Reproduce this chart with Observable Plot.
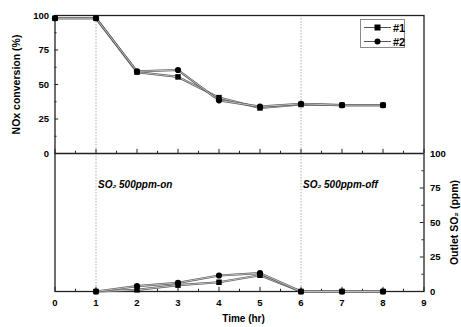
<!DOCTYPE html>
<html>
<head>
<meta charset="utf-8">
<script src="https://cdn.jsdelivr.net/npm/d3@7"></script>
<script src="https://cdn.jsdelivr.net/npm/@observablehq/plot@0.6"></script>
<style>
  body { margin: 0; background: #fff; }
  #wrap { position: relative; width: 461px; height: 327px; font-family: "Liberation Sans", Arial, sans-serif; }
  #legend { position: absolute; left: 360px; top: 19px; width: 45px; height: 29px; border: 1px solid #8a8a8a; background: #fff; box-sizing: border-box; font-weight: bold; font-size: 11px; }
  #legend .row { position: absolute; left: 3px; height: 13px; display: flex; align-items: center; }
  #legend svg { display: block; }
  #legend span { margin-left: 2px; }
</style>
</head>
<body>
<div id="wrap"></div>
<script>
// ---- data ----
const time = [0, 1, 2, 3, 4, 5, 6, 7, 8];
const nox1 = [98, 98, 59, 55.5, 40.5, 33, 35.5, 35, 35];
const nox2 = [98, 98, 59.5, 60.5, 38.5, 34, 36, 35, 35];
const so2Time = [1, 2, 3, 4, 5, 6, 7, 8];
const so2_1 = [0, 1.2, 4.6, 6.7, 11.8, 0, 0, 0];
const so2_2 = [0, 3.9, 6.3, 11.6, 13.3, 0, 0, 0];
const seriesNames = ["#1", "#2"];
const xTicks = [0, 1, 2, 3, 4, 5, 6, 7, 8, 9];
const xMinor = [0.5, 1.5, 2.5, 3.5, 4.5, 5.5, 6.5, 7.5, 8.5];
const yTicks = [0, 25, 50, 75, 100];
const yMinor = [12.5, 37.5, 62.5, 87.5];
const eventTimes = [1, 6];
const eventLabels = ["SO\u2082 500ppm-on", "SO\u2082 500ppm-off"];
const titleX = "Time (hr)";
const titleLeft = "NOx conversion (%)";
const titleRight = "Outlet SO\u2082 (ppm)";

// top panel is drawn on the upper half of one shared y scale (offset 100)
const OFF = 100;
const top1 = time.map((t, i) => ({t, v: nox1[i] + OFF}));
const top2 = time.map((t, i) => ({t, v: nox2[i] + OFF}));
const bot1 = so2Time.map((t, i) => ({t, v: so2_1[i]}));
const bot2 = so2Time.map((t, i) => ({t, v: so2_2[i]}));

const lineOuter = {stroke: "#555", strokeWidth: 2.2};
const lineInner = {stroke: "#dcdcdc", strokeWidth: 0.8};
const sq = {symbol: "square", r: 3.1, fill: "#000"};
const ci = {symbol: "circle", r: 3.1, fill: "#000"};

const plot = Plot.plot({
  width: 461,
  height: 327,
  marginLeft: 54.5,
  marginRight: 37.5,
  marginTop: 15,
  marginBottom: 36,
  style: {fontFamily: "'Liberation Sans', Arial, sans-serif", fontWeight: "bold", fontSize: "9.5px", color: "#000", background: "#fff"},
  x: {domain: [0, 9]},
  y: {domain: [0, 200]},
  marks: [
    // event lines
    Plot.ruleX(eventTimes, {x: d => d, stroke: "#999", strokeWidth: 0.8, strokeDasharray: "1.5,1.5"}),
    // frame and panel divider
    Plot.frame({stroke: "#222", strokeWidth: 1.3}),
    Plot.ruleY([OFF], {stroke: "#222", strokeWidth: 1.3}),
    // x ticks (bottom and middle), pointing up
    Plot.ruleX(xTicks, {x: d => d, y1: 0, y2: 3, stroke: "#222", strokeWidth: 1}),
    Plot.ruleX(xMinor, {x: d => d, y1: 0, y2: 1.6, stroke: "#222", strokeWidth: 1}),
    Plot.ruleX(xTicks, {x: d => d, y1: OFF, y2: OFF + 3, stroke: "#222", strokeWidth: 1}),
    Plot.ruleX(xMinor, {x: d => d, y1: OFF, y2: OFF + 1.6, stroke: "#222", strokeWidth: 1}),
    // left ticks (top panel), right ticks (bottom panel), inward
    Plot.ruleY(yTicks, {y: d => d + OFF, x1: 0, x2: 0.09, stroke: "#222", strokeWidth: 1}),
    Plot.ruleY(yMinor, {y: d => d + OFF, x1: 0, x2: 0.05, stroke: "#222", strokeWidth: 1}),
    Plot.ruleY(yTicks, {y: d => d, x1: 9, x2: 8.91, stroke: "#222", strokeWidth: 1}),
    Plot.ruleY(yMinor, {y: d => d, x1: 9, x2: 8.95, stroke: "#222", strokeWidth: 1}),
    // tick labels
    Plot.axisX({ticks: xTicks, tickSize: 0, tickPadding: 8, label: null}),
    Plot.axisY({anchor: "left", ticks: yTicks.map(d => d + OFF), tickFormat: d => d - OFF, tickSize: 0, tickPadding: 6, label: null}),
    Plot.axisY({anchor: "right", ticks: yTicks, tickSize: 0, tickPadding: 6, label: null}),
    // axis titles
    Plot.text([titleLeft], {frameAnchor: "left", y: OFF + 50, rotate: -90, textAnchor: "middle", dx: -38, fontSize: 10.5, fontWeight: "bold"}),
    Plot.text([titleRight], {frameAnchor: "right", y: 50, rotate: -90, textAnchor: "middle", dx: 31, fontSize: 10.5, fontWeight: "bold"}),
    Plot.text([titleX], {frameAnchor: "bottom", x: 4.5, dx: 4, dy: 30, textAnchor: "middle", fontSize: 10, fontWeight: "bold"}),
    // event labels
    Plot.text(eventTimes, {x: d => d, y: 77, text: (d, i) => eventLabels[i], textAnchor: "start", dx: 2, fontSize: 10, fontWeight: "bold", fontStyle: "italic"}),
    // series
    Plot.line(top1, {x: "t", y: "v", ...lineOuter}),
    Plot.line(top1, {x: "t", y: "v", ...lineInner}),
    Plot.line(top2, {x: "t", y: "v", ...lineOuter}),
    Plot.line(top2, {x: "t", y: "v", ...lineInner}),
    Plot.line(bot1, {x: "t", y: "v", ...lineOuter}),
    Plot.line(bot1, {x: "t", y: "v", ...lineInner}),
    Plot.line(bot2, {x: "t", y: "v", ...lineOuter}),
    Plot.line(bot2, {x: "t", y: "v", ...lineInner}),
    Plot.dot(top1, {x: "t", y: "v", ...sq}),
    Plot.dot(top2, {x: "t", y: "v", ...ci}),
    Plot.dot(bot1, {x: "t", y: "v", ...sq}),
    Plot.dot(bot2, {x: "t", y: "v", ...ci})
  ]
});
const wrap = document.getElementById("wrap");
wrap.appendChild(plot);

// legend overlay
const legend = document.createElement("div");
legend.id = "legend";
const shapes = [
  '<rect x="10.5" y="3.5" width="6" height="6" fill="#000"/>',
  '<circle cx="13.5" cy="6.5" r="3" fill="#000"/>'
];
seriesNames.forEach((name, i) => {
  const row = document.createElement("div");
  row.className = "row";
  row.style.top = (1 + i * 14) + "px";
  row.innerHTML = '<svg width="27" height="13"><line x1="0" y1="6.5" x2="27" y2="6.5" stroke="#555" stroke-width="1"/>' + shapes[i] + '</svg><span>' + name + '</span>';
  legend.appendChild(row);
});
wrap.appendChild(legend);
</script>
</body>
</html>
